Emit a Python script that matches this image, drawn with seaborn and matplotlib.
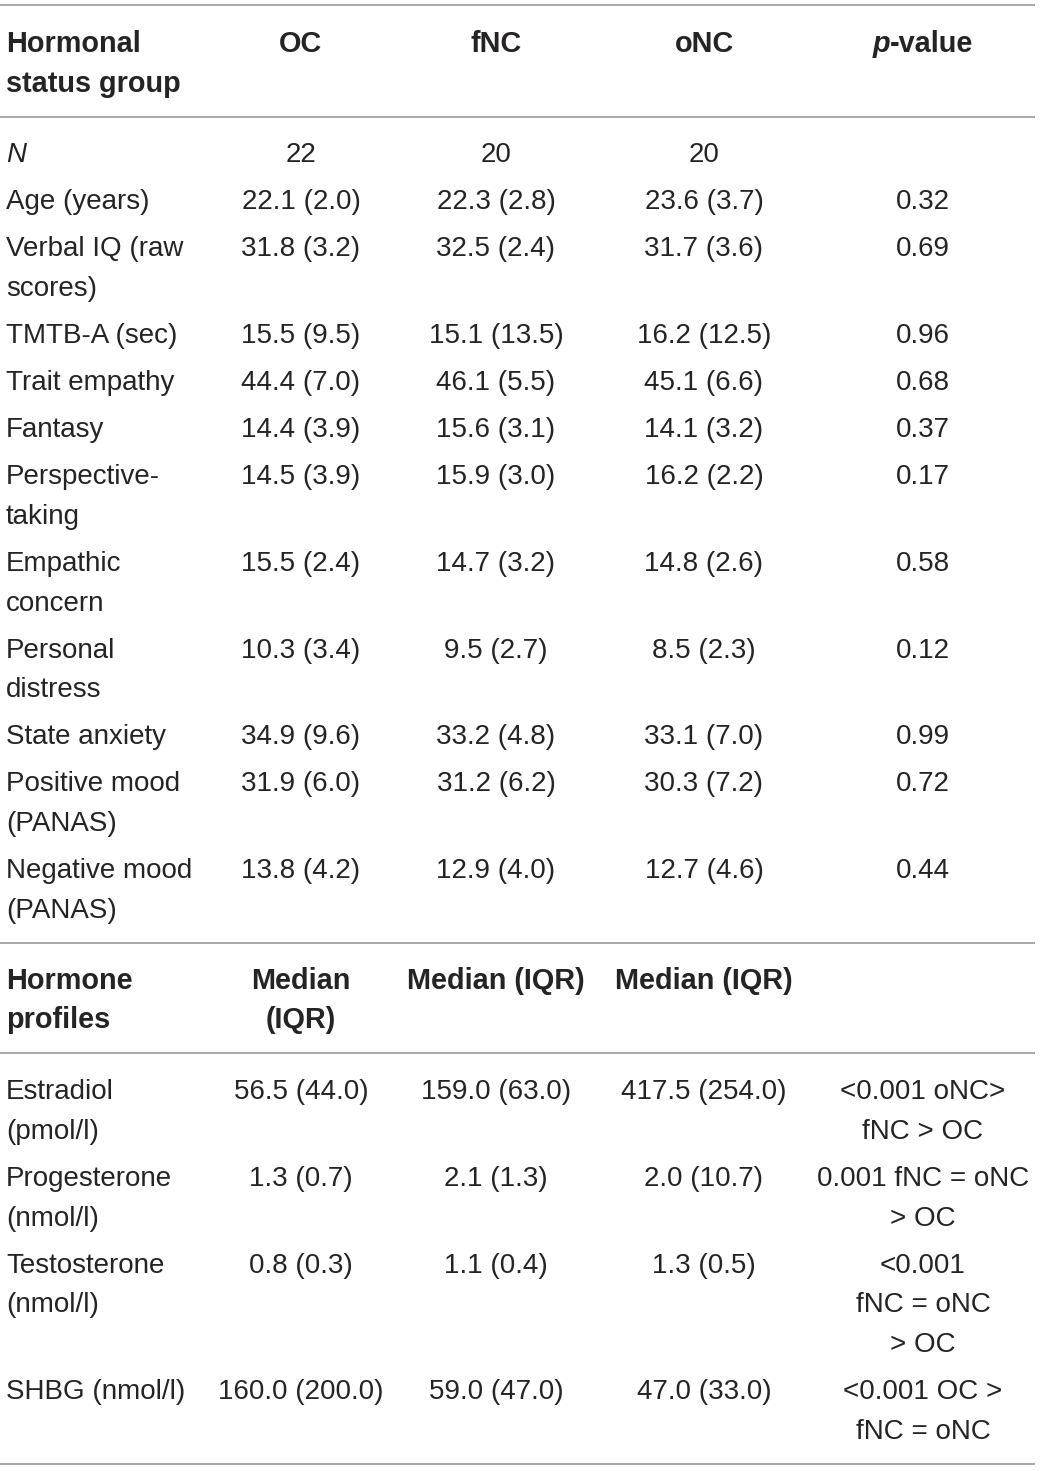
import matplotlib
matplotlib.use("Agg")
import matplotlib.pyplot as plt
import seaborn as sns

# table content
groups = ["OC", "fNC", "oNC"]

demo_vars = ["N", "Age (years)", "Verbal IQ (raw\nscores)", "TMTB-A (sec)",
             "Trait empathy", "Fantasy", "Perspective-\ntaking", "Empathic\nconcern",
             "Personal\ndistress", "State anxiety", "Positive mood\n(PANAS)",
             "Negative mood\n(PANAS)"]
n_per_group = [22, 20, 20]
oc_mean = [22.1, 31.8, 15.5, 44.4, 14.4, 14.5, 15.5, 10.3, 34.9, 31.9, 13.8]
oc_sd = [2.0, 3.2, 9.5, 7.0, 3.9, 3.9, 2.4, 3.4, 9.6, 6.0, 4.2]
fnc_mean = [22.3, 32.5, 15.1, 46.1, 15.6, 15.9, 14.7, 9.5, 33.2, 31.2, 12.9]
fnc_sd = [2.8, 2.4, 13.5, 5.5, 3.1, 3.0, 3.2, 2.7, 4.8, 6.2, 4.0]
onc_mean = [23.6, 31.7, 16.2, 45.1, 14.1, 16.2, 14.8, 8.5, 33.1, 30.3, 12.7]
onc_sd = [3.7, 3.6, 12.5, 6.6, 3.2, 2.2, 2.6, 2.3, 7.0, 7.2, 4.6]
p_demo = [0.32, 0.69, 0.96, 0.68, 0.37, 0.17, 0.58, 0.12, 0.99, 0.72, 0.44]

hormone_vars = ["Estradiol\n(pmol/l)", "Progesterone\n(nmol/l)",
                "Testosterone\n(nmol/l)", "SHBG (nmol/l)"]
oc_median = [56.5, 1.3, 0.8, 160.0]
oc_iqr = [44.0, 0.7, 0.3, 200.0]
fnc_median = [159.0, 2.1, 1.1, 59.0]
fnc_iqr = [63.0, 1.3, 0.4, 47.0]
onc_median = [417.5, 2.0, 1.3, 47.0]
onc_iqr = [254.0, 10.7, 0.5, 33.0]
p_horm = ["<0.001 oNC>\nfNC > OC", "0.001 fNC = oNC\n> OC",
          "<0.001\nfNC = oNC\n> OC", "<0.001 OC >\nfNC = oNC"]


def fmt(a, b):
    return f"{a:.1f} ({b:.1f})"


demo_rows = [[demo_vars[0]] + [str(n) for n in n_per_group] + [""]]
for i in range(len(oc_mean)):
    demo_rows.append([demo_vars[i + 1], fmt(oc_mean[i], oc_sd[i]),
                      fmt(fnc_mean[i], fnc_sd[i]), fmt(onc_mean[i], onc_sd[i]),
                      f"{p_demo[i]:.2f}"])

horm_rows = []
for i in range(len(hormone_vars)):
    horm_rows.append([hormone_vars[i], fmt(oc_median[i], oc_iqr[i]),
                      fmt(fnc_median[i], fnc_iqr[i]), fmt(onc_median[i], onc_iqr[i]),
                      p_horm[i]])

sns.set_theme(style="white")
plt.rcParams["font.family"] = ["Liberation Sans", "DejaVu Sans"]

W, H = 1040, 1471
fig = plt.figure(figsize=(W / 100, H / 100), dpi=100)
ax = fig.add_axes([0, 0, 1, 1])
ax.set_xlim(0, W)
ax.set_ylim(H, 0)
ax.axis("off")

FS = 20
FS_BOLD = 20.8
INK = "#262324"
RULE = "#9a9a9a"
COL_X = [6, 301, 496, 704, 923]
ROW_STEP = 47.1
LINE_GAP = 39.6


def cell(x, y, s, ha, **kw):
    size = FS_BOLD if kw.get("fontweight") == "bold" else FS
    for k, line in enumerate(s.split("\n")):
        ax.text(x, y + k * LINE_GAP, line, ha=ha, va="baseline",
                fontsize=size, color=INK, **kw)


def rule(y):
    ax.plot([0, 1035], [y, y], color=RULE, lw=1.2, solid_capstyle="butt")


def body(rows, y):
    for row in rows:
        for j, s in enumerate(row):
            cell(COL_X[j], y, s, "left" if j == 0 else "center",
                 style="italic" if (j == 0 and s == "N") else "normal")
        nl = max(s.count("\n") + 1 for s in row)
        last = y + (nl - 1) * LINE_GAP
        y = last + ROW_STEP
    return last


# first header block
rule(5)
cell(COL_X[0], 52, "Hormonal\nstatus group", "left", fontweight="bold")
for j, g in enumerate(groups):
    cell(COL_X[j + 1], 52, g, "center", fontweight="bold")

# p-value header: italic p + upright "-value", centred together
t1 = ax.text(0, 52, "p", ha="left", va="baseline", fontsize=FS_BOLD, color=INK,
             fontweight="bold", style="italic")
t2 = ax.text(0, 52, "-value", ha="left", va="baseline", fontsize=FS_BOLD, color=INK,
             fontweight="bold")
fig.canvas.draw()
r = fig.canvas.get_renderer()
w1 = t1.get_window_extent(r).width
w2 = t2.get_window_extent(r).width
x0 = COL_X[4] - (w1 + w2) / 2
t1.set_x(x0)
t2.set_x(x0 + w1)

rule(117)
last = body(demo_rows, 162)
rule(last + 25)

# second header block
hy = last + 25 + 46
cell(COL_X[0], hy, "Hormone\nprofiles", "left", fontweight="bold")
cell(COL_X[1], hy, "Median\n(IQR)", "center", fontweight="bold")
cell(COL_X[2], hy, "Median (IQR)", "center", fontweight="bold")
cell(COL_X[3], hy, "Median (IQR)", "center", fontweight="bold")
r2 = hy + LINE_GAP + 25
rule(r2)
last = body(horm_rows, r2 + 46)
rule(last + 25)

fig.savefig("out.png", dpi=100, facecolor="white")
